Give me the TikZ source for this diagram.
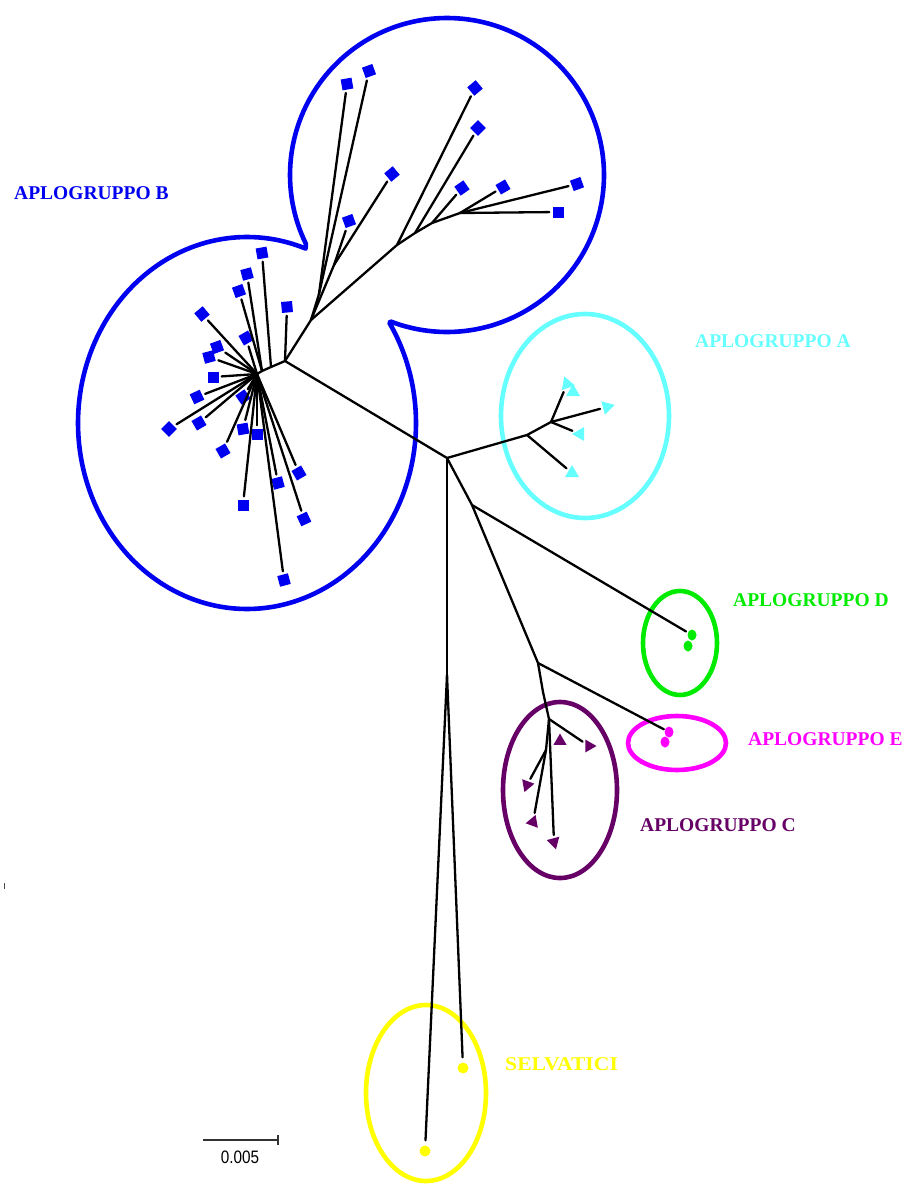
\documentclass[tikz,border=0pt]{standalone}
\usepackage{fontspec}
\setmainfont{Liberation Serif}
\setsansfont{Liberation Sans}
\usetikzlibrary{shapes.geometric}
\definecolor{bblue}{RGB}{0,0,240}
\definecolor{acyan}{RGB}{102,255,255}
\definecolor{dgreen}{RGB}{0,235,0}
\definecolor{emag}{RGB}{255,0,255}
\definecolor{cpurp}{RGB}{102,0,102}
\definecolor{syell}{RGB}{255,255,0}
\begin{document}
\begin{tikzpicture}[x=1pt,y=-1pt,
  br/.style={line width=2.3pt, line cap=round, line join=round},
  lf/.style={br, shorten >=3pt},
  bsq/.style={rectangle, fill=bblue, minimum size=11pt, inner sep=0pt},
  atri/.style={regular polygon, regular polygon sides=3, fill=acyan, minimum size=16pt, inner sep=0pt},
  ctri/.style={regular polygon, regular polygon sides=3, fill=cpurp, minimum size=15pt, inner sep=0pt},
  blob/.style={ellipse, minimum width=9pt, minimum height=11pt, inner sep=0pt},
  hull/.style={line width=4.6pt},
  lab/.style={font=\fontsize{19.5}{20}\selectfont\bfseries, anchor=base west, inner sep=0pt}]
\useasboundingbox (0,0) rectangle (910,1185);
\fill[white] (0,0) rectangle (910,1185);

% ---------- hulls ----------
\draw[hull, bblue, line join=round]
  plot[domain=249:566, samples=160] ({447+157*cos(\x)},{175-157*sin(\x)})
  -- plot[domain=69.7:392.6, samples=180] ({247+169*cos(\x)},{423-186*sin(\x)})
  -- cycle;
\draw[hull, acyan] (585,416) ellipse [x radius=84, y radius=102];
\draw[hull, dgreen] (680,643) ellipse [x radius=37, y radius=52];
\draw[hull, emag] (677,743) ellipse [x radius=49, y radius=27];
\draw[hull, cpurp] (560,790) ellipse [x radius=57, y radius=88];
\draw[hull, syell] (426,1093) ellipse [x radius=60, y radius=88];

% ---------- internal coordinates ----------
\coordinate (root) at (447,458);
\coordinate (bA) at (285,361);
\coordinate (h2) at (271,367);
\coordinate (h3) at (262,371);
\coordinate (hub) at (257,374);
\coordinate (bup) at (311,320);
\coordinate (u1) at (319,294);
\coordinate (u2) at (334,265);
\coordinate (u3) at (397,245);
\coordinate (u4) at (415,233);
\coordinate (u5) at (432,223);
\coordinate (u6) at (460,213);
\coordinate (a1) at (527,435);
\coordinate (a2) at (551,422);
\coordinate (d1) at (472,505);
\coordinate (c0) at (538,663);
\coordinate (cb) at (543,692);
\coordinate (c1) at (549,719);
\coordinate (c2) at (546,750);
\coordinate (s) at (447,675);

% ---------- leaves ----------
% B lower cluster
\node[bsq,rotate=10] (L1) at (262,253) {};
\node[bsq,rotate=15] (L2) at (247,274) {};
\node[bsq,rotate=20] (L3) at (239,291) {};
\node[bsq,rotate=5] (L0) at (287,307) {};
\node[bsq,rotate=40] (L4) at (202,314) {};
\node[bsq,rotate=30] (L5) at (246,338) {};
\node[bsq,rotate=20] (L6) at (217,347) {};
\node[bsq,rotate=15] (L7) at (209,357) {};
\node[bsq,rotate=0] (L8) at (213,377) {};
\node[bsq,rotate=25] (L9) at (197,397) {};
\node[bsq,rotate=45] (L10) at (169,429) {};
\node[bsq,rotate=30] (L11) at (199,423) {};
\node[bsq,rotate=35] (L12) at (243,397) {};
\node[bsq,rotate=30] (L13) at (223,451) {};
\node[bsq,rotate=10] (L14) at (243,429) {};
\node[bsq,rotate=0] (L15) at (257,434) {};
\node[bsq,rotate=0] (L16) at (243,505) {};
\node[bsq,rotate=15] (L17) at (278,483) {};
\node[bsq,rotate=30] (L18) at (299,473) {};
\node[bsq,rotate=25] (L19) at (304,519) {};
\node[bsq,rotate=15] (L20) at (284,580) {};
% B upper cluster
\node[bsq,rotate=10] (U1) at (347,84) {};
\node[bsq,rotate=20] (U2) at (369,71) {};
\node[bsq,rotate=40] (U3) at (392,174) {};
\node[bsq,rotate=20] (U4) at (349,221) {};
\node[bsq,rotate=40] (U5) at (475,88) {};
\node[bsq,rotate=45] (U6) at (478,128) {};
\node[bsq,rotate=35] (U7) at (462,188) {};
\node[bsq,rotate=30] (U8) at (503,187) {};
\node[bsq,rotate=20] (U9) at (577,184) {};
\node[bsq,rotate=0] (U10) at (558,212) {};
% A
\node[atri,rotate=-100] (A1) at (567,384) {};
\node[atri,rotate=-120] (A2) at (573,392) {};
\node[atri,rotate=-75] (A3) at (607,407) {};
\node[atri,rotate=-150] (A4) at (580,434) {};
\node[atri,rotate=-120] (A5) at (572,473) {};
% D, E
\node[blob, fill=dgreen] (D1) at (692,635) {};
\node[blob, fill=dgreen] (D2) at (688,646) {};
\node[blob, fill=emag] (E1) at (669,732) {};
\node[blob, fill=emag] (E2) at (665,742) {};
% C
\node[ctri,rotate=0] (C1) at (560,741) {};
\node[ctri,rotate=-90] (C2) at (589,746) {};
\node[ctri,rotate=160] (C3) at (527,785) {};
\node[ctri,rotate=100] (C4) at (533,822) {};
\node[ctri,rotate=75] (C5) at (554,842) {};
% wild
\node[circle, fill=syell, minimum size=11pt, inner sep=0pt] (Y1) at (425,1151) {};
\node[circle, fill=syell, minimum size=11pt, inner sep=0pt] (Y2) at (463,1068) {};

% ---------- branches ----------
\draw[br] (root) -- (bA) -- (h2) -- (h3) -- (hub);
\draw[lf] (bA) -- (L0);
\draw[lf] (h2) -- (L1);
\draw[lf] (h3) -- (L2);
\draw[lf] (h3) -- (L3);
\foreach \n in {L4,L5,L6,L7,L8,L9,L10,L11,L12,L13,L14,L15,L16,L17,L18,L19,L20}
  \draw[lf] (hub) -- (\n);
\draw[br] (bA) -- (bup) -- (u3) -- (u4) -- (u5) -- (u6);
\draw[br] (bup) -- (u1);
\draw[lf] (u1) -- (U1);
\draw[lf] (u1) -- (U2);
\draw[br] (bup) -- (u2);
\draw[lf] (u2) -- (U3);
\draw[lf] (u2) -- (U4);
\draw[lf] (u3) -- (U5);
\draw[lf] (u4) -- (U6);
\draw[lf] (u5) -- (U7);
\draw[lf] (u6) -- (U8);
\draw[lf] (u6) -- (U9);
\draw[lf] (u6) -- (U10);
% A
\draw[br] (root) -- (a1) -- (a2);
\draw[lf] (a1) -- (A5);
\draw[lf] (a2) -- (A1);
\draw[lf] (a2) -- (A3);
\draw[lf] (a2) -- (A4);
% D, E, C
\draw[br] (root) -- (d1) -- (c0) -- (cb) -- (c1) -- (c2);
\draw[lf, shorten >=2pt] (d1) -- (D1);
\draw[lf, shorten >=1pt] (c0) -- (E1);
\draw[lf] (c1) -- (C2);
\draw[lf] (c2) -- (C3);
\draw[lf] (c2) -- (C4);
\draw[lf] (c1) -- (C5);
% wild
\draw[br] (root) -- (s);
\draw[lf, shorten >=5pt] (s) -- (Y1);
\draw[lf, shorten >=5pt] (s) -- (Y2);

% ---------- labels ----------
\node[lab, text=bblue] (tB) at (14,200) {APLOGRUPPO B};
\node[lab, text=acyan] (tA) at (695,347) {APLOGRUPPO A};
\node[lab, text=dgreen] (tD) at (733,606) {APLOGRUPPO D};
\node[lab, text=emag] (tE) at (748,745) {APLOGRUPPO E};
\node[lab, text=cpurp] (tC) at (640,831) {APLOGRUPPO C};
\node[lab, text=syell, xscale=1.11] (tS) at (505,1070) {SELVATICI};

% ---------- scale bar ----------
\coordinate (sb1) at (203,1140);
\coordinate (sb2) at (278,1140);
\draw[line width=1.1pt, black!80] (sb1) -- (sb2);
\draw[line width=1.1pt, black!80] ([yshift=-5pt]sb2) -- ([yshift=5pt]sb2);
\node[font=\fontsize{18}{18}\sffamily, xscale=0.85, anchor=base, inner sep=0pt] (sbt) at (240,1163) {0.005};
\draw[line width=1pt, black!70] (4.5,883) -- (4.5,889);
\end{tikzpicture}
\end{document}
